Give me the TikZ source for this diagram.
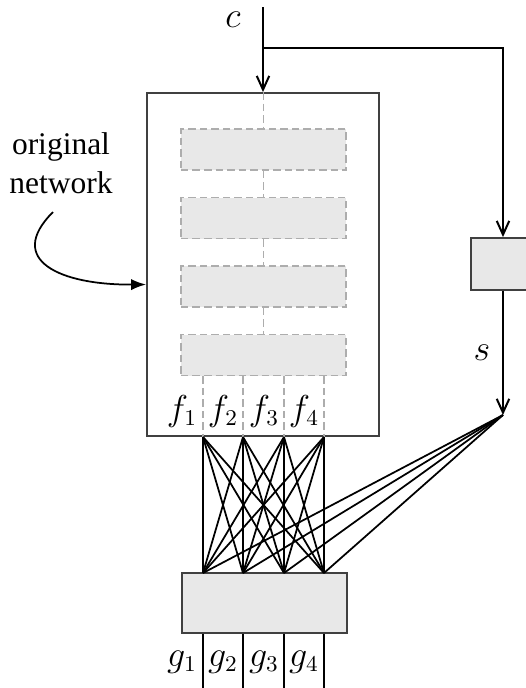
\documentclass[tikz,border=0pt]{standalone}
\usepackage{amsmath}
\usepackage{fontspec}
\newfontfamily\labelfont{Liberation Serif}
\usetikzlibrary{arrows,arrows.meta,shapes}
\tikzstyle{netbox}=[draw=black!75,line width=0.75pt,inner sep=0pt]
\tikzstyle{layer}=[draw=black!32,fill=black!9,dash pattern=on 3pt off 1.6pt,line width=0.75pt,minimum width=66pt,minimum height=16.4pt,inner sep=0pt]
\tikzstyle{block}=[draw=black!75,fill=black!9,line width=0.75pt,inner sep=0pt]
\tikzstyle{link} = [draw=black!32,dash pattern=on 3pt off 1.6pt,line width=0.75pt]
\tikzstyle{signal} = [draw,line width=0.8pt,-{Straight Barb[length=5.5pt,width=5pt]}]
\tikzstyle{wire} = [draw,line width=0.7pt]
\tikzstyle{label} = [font=\fontsize{13.5}{15}\selectfont]

\begin{document}
\begin{tikzpicture}[x=0.4pt,y=-0.4pt]
    \useasboundingbox (0,0) rectangle (526,688);
    % The original network with its layers
    \node[netbox,minimum width=92.8pt,minimum height=137.2pt] (net) at (263,264.5) {};
    \foreach \pos/\name in {{(263.5,149.5)/layer1}, {(263.5,218)/layer2}, {(263.5,286.5)/layer3}, {(263.5,355)/layer4}}
        \node[layer] (\name) at \pos {};

    % The side box and the output box
    \node[block,minimum width=25.6pt,minimum height=20.8pt] (sbox) at (503,264) {};
    \node[block,minimum width=66pt,minimum height=24pt] (gbox) at (264.5,603) {};

    % Points where the connectors start and end
    \coordinate (cin) at (263,7);
    \coordinate (split) at (263,48);
    \coordinate (fan) at (503,415);
    \foreach \x/\i in {203/1, 243/2, 284/3, 324/4} {
        \coordinate (f\i) at (\x,437);
        \coordinate (g\i) at (\x,573);
        \coordinate (o\i) at (\x,690);
    }

    % Input c and the signal s
    \path[signal] (cin) -- (net.north);
    \path[signal] (split) -| (sbox.north);
    \path[signal] (sbox.south) -- (fan);
    \node[label] (clabel) at (233,20) {$c$};
    \node[label] (slabel) at (482,353) {$s$};

    % Dashed links through the layers
    \path[link] (net.north -| layer1.north) -- (layer1.north);
    \foreach \source/ \dest in {layer1/layer2, layer2/layer3, layer3/layer4}
        \path[link] (\source.south) -- (\dest.north);
    \foreach \i in {1,...,4}
        \path[link] (f\i |- layer4.south) -- (f\i);

    % Connect features with the output box
    \foreach \i in {1,...,4} {
        \foreach \j in {1,...,4}
            \path[wire] (f\i) -- (g\j);
        \path[wire] (fan) -- (g\i);
        \path[wire] (gbox.south -| g\i) -- (o\i);
    }

    % Labels of features and outputs
    \foreach \x/\i in {182/1, 223/2, 264/3, 304/4} {
        \node[label] (flabel\i) at (\x,411) {$f_\i$};
        \node[label] (glabel\i) at (\x,662) {$g_\i$};
    }

    % Pointer to the original network
    \node[align=center,font=\fontsize{12.6}{15.6}\selectfont\labelfont] (orig) at (61,163) {original\\network};
    \coordinate (bend) at (53,212);
    \draw[line width=0.7pt,-{Latex[length=6pt,width=4.5pt]}] (bend) .. controls (5,260) and (60,285) .. ([yshift=-8pt]net.west);
\end{tikzpicture}
\end{document}
